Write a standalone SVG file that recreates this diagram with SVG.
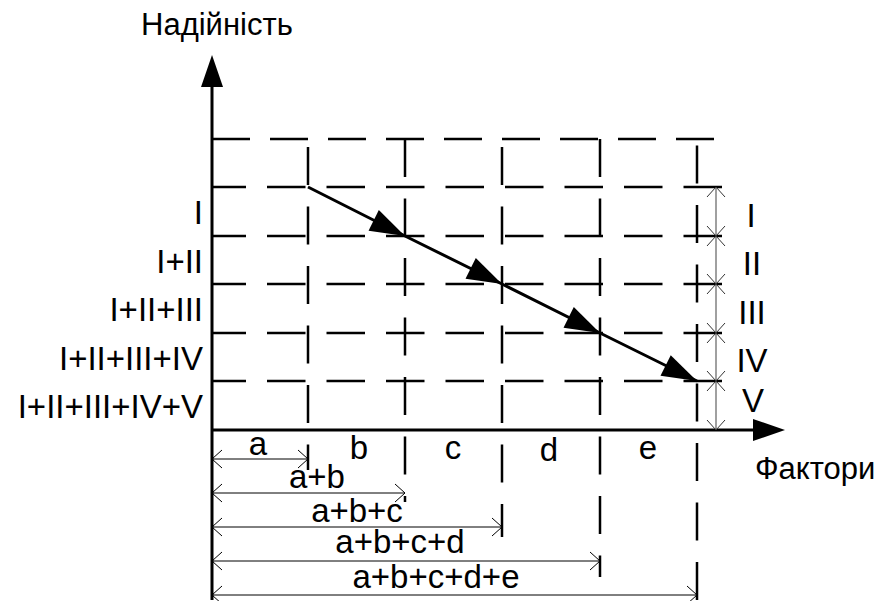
<svg xmlns="http://www.w3.org/2000/svg" width="880" height="601" viewBox="0 0 880 601">
<defs>
<style>
.t{font-family:"Liberation Sans",Arial,sans-serif;font-size:33px;fill:#000}
.tc{font-size:31px}
.grid{stroke:#000;stroke-width:2.5;fill:none}
.gh{stroke-dasharray:38 20}
.gv{stroke-dasharray:38 21.5}
.gr{stroke-dasharray:38.5 21}
.axis{stroke:#000;stroke-width:3;fill:none}
.dim{stroke:#000;stroke-width:1;fill:none}
.vdim{stroke:#808080;stroke-width:1.5;fill:none}
.main{stroke:#000;stroke-width:3;fill:none}
</style>
<marker id="open" viewBox="-12 -12 24 24" markerWidth="24" markerHeight="24" refX="0" refY="0" markerUnits="userSpaceOnUse" orient="auto-start-reverse">
<path d="M-10,-9 L0,0 L-10,9" fill="none" stroke="#000" stroke-width="1"/>
</marker>
<marker id="open2" viewBox="-12 -12 24 24" markerWidth="24" markerHeight="24" refX="0" refY="0" markerUnits="userSpaceOnUse" orient="auto-start-reverse">
<path d="M-10,-9 L0,0 L-10,9" fill="none" stroke="#333" stroke-width="1"/>
</marker>
<marker id="solid" viewBox="-40 -15 42 30" markerWidth="42" markerHeight="30" refX="0" refY="0" markerUnits="userSpaceOnUse" orient="auto">
<polygon points="0,0 -35,-11.5 -35,11.5" fill="#000"/>
</marker>
<marker id="axarrow" viewBox="-10 -15 40 30" markerWidth="40" markerHeight="30" refX="0" refY="0" markerUnits="userSpaceOnUse" orient="auto">
<polygon points="-7,-11 25,0 -7,11" fill="#000"/>
</marker>
</defs>
<rect width="880" height="601" fill="#fff"/>

<g id="grid">
<line class="grid gh" x1="212" y1="139" x2="722" y2="139"/>
<line class="grid gr" x1="722" y1="187" x2="212" y2="187"/>
<line class="grid gr" x1="722" y1="236" x2="212" y2="236"/>
<line class="grid gr" x1="722" y1="284" x2="212" y2="284"/>
<line class="grid gr" x1="722" y1="333" x2="212" y2="333"/>
<line class="grid gr" x1="722" y1="381" x2="212" y2="381"/>
<line class="grid gv" x1="308" y1="139" x2="308" y2="470" stroke-dashoffset="51.5"/>
<line class="grid gv" x1="405" y1="139" x2="405" y2="502"/>
<line class="grid gv" x1="502" y1="139" x2="502" y2="537" stroke-dashoffset="51.5"/>
<line class="grid gv" x1="600" y1="139" x2="600" y2="577"/>
<line class="grid gv" x1="697" y1="600" x2="697" y2="139"/>
</g>

<g id="axes">
<line id="y-axis" class="axis" x1="212" y1="600" x2="212" y2="80" marker-end="url(#axarrow)"/>
<line id="x-axis" class="axis" x1="212" y1="430" x2="760" y2="430" marker-end="url(#axarrow)"/>
</g>

<g id="connectors">
<polyline class="main" points="308,187 405,236 502,284 600,333 697,381" marker-mid="url(#solid)" marker-end="url(#solid)"/>
<line class="dim" x1="212" y1="459" x2="308" y2="459" marker-start="url(#open)" marker-end="url(#open)"/>
<line class="dim" x1="212" y1="493" x2="405" y2="493" marker-start="url(#open)" marker-end="url(#open)"/>
<line class="dim" x1="212" y1="527" x2="502" y2="527" marker-start="url(#open)" marker-end="url(#open)"/>
<line class="dim" x1="212" y1="561" x2="600" y2="561" marker-start="url(#open)" marker-end="url(#open)"/>
<line class="dim" x1="212" y1="595" x2="697" y2="595" marker-start="url(#open)" marker-end="url(#open)"/>
<line class="vdim" x1="716" y1="187" x2="716" y2="236" marker-start="url(#open2)" marker-end="url(#open2)"/>
<line class="vdim" x1="716" y1="236" x2="716" y2="284" marker-start="url(#open2)" marker-end="url(#open2)"/>
<line class="vdim" x1="716" y1="284" x2="716" y2="333" marker-start="url(#open2)" marker-end="url(#open2)"/>
<line class="vdim" x1="716" y1="333" x2="716" y2="381" marker-start="url(#open2)" marker-end="url(#open2)"/>
<line class="vdim" x1="716" y1="381" x2="716" y2="430" marker-start="url(#open2)" marker-end="url(#open2)"/>
</g>

<g id="axis-labels">
<text class="t tc" x="141" y="35">Надійність</text>
<text class="t tc" x="755" y="479">Фактори</text>
</g>

<g id="left-labels" text-anchor="end">
<text class="t" x="203" y="224">I</text>
<text class="t" x="203" y="273">I+II</text>
<text class="t" x="203" y="321">I+II+III</text>
<text class="t" x="203" y="370">I+II+III+IV</text>
<text class="t" x="203" y="418">I+II+III+IV+V</text>
</g>

<g id="right-labels" text-anchor="middle">
<text class="t" x="751" y="227">I</text>
<text class="t" x="752" y="275">II</text>
<text class="t" x="752" y="324">III</text>
<text class="t" x="752" y="372">IV</text>
<text class="t" x="753" y="412">V</text>
</g>

<g id="segment-labels" text-anchor="middle">
<text class="t" x="258" y="455">a</text>
<text class="t" x="359" y="459">b</text>
<text class="t" x="453" y="459">c</text>
<text class="t" x="549" y="461">d</text>
<text class="t" x="648" y="459">e</text>
</g>

<g id="sum-labels" text-anchor="middle">
<text class="t" x="317" y="488">a+b</text>
<text class="t" x="357" y="522">a+b+c</text>
<text class="t" x="400" y="553">a+b+c+d</text>
<text class="t" x="436" y="588">a+b+c+d+e</text>
</g>
</svg>
